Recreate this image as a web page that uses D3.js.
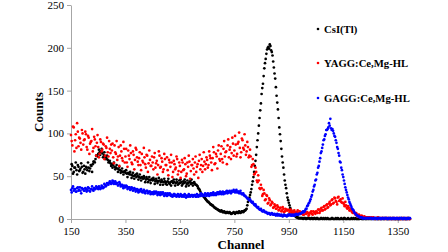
<!DOCTYPE html>
<html>
<head>
<meta charset="utf-8">
<script src="https://cdn.jsdelivr.net/npm/d3@7"></script>
<style>
  body { margin: 0; background: #fff; }
  svg { display: block; }
  text { font-family: "Liberation Serif", "Times New Roman", serif; }
</style>
</head>
<body>
<svg id="chart" width="448" height="252"></svg>
<script>
// readings every 5 channels from 150, plus a second set half-way (152.5, 157.5, ...)
var chStart = 150, chStep = 5, chHalf = 2.5;
var xTicks = [150, 350, 550, 750, 950, 1150, 1350];
var yTicks = [0, 50, 100, 150, 200, 250];
var seriesNames = ["CsI(Tl)", "YAGG:Ce,Mg-HL", "GAGG:Ce,Mg-HL"];
var seriesColors = ["#000000", "#ff0000", "#0000ff"];

var csi = [
  58,62,55,60,57,63,56,59,61,55,
  58,61,57,60,59,62,64,67,70,74,
  76,78,79,77,75,73,71,69,67,65,
  64,63,61,60,59,58,57,56,55,55,
  54,53,54,52,52,51,50,51,49,50,
  49,48,49,47,48,46,47,46,45,46,
  45,46,44,45,44,45,43,44,43,44,
  43,44,42,43,44,42,43,42,43,41,
  42,43,41,42,43,41,42,43,41,42,
  42,41,40,38,35,32,29,27,25,23,
  21,20,18,17,16,14,13,12,11,10,
  9,9,8,8,7,8,7,7,6,7,
  7,7,8,7,8,8,9,9,10,12,
  20,25,31,40,49,62,75,92,109,127,
  146,158,176,187,198,201,204,197,191,177,
  164,144,128,107,91,73,60,45,36,25,
  19,13,9,6,4,3,2,1,1,1,
  1,1,1,0,1,1,0,1,0,1,
  0,1,0,0,1,0,0,1,0,0,
  0,0,1,0,0,0,1,0,0,0,
  0,1,0,0,0,0,1,0,0,1,
  0,0,0,1,0,0,0,0,1,0,
  0,0,1,0,0,0,0,1,0,0,
  0,1,0,0,0,1,0,0,0,0,
  0,0,0,1,0,0,0,0,1,0
];
var csiMid = [
  64,53,60,66,52,61,57,65,54,62,
  53,60,66,56,63,55,67,66,74,73,
  81,75,82,72,78,70,74,66,68,62,
  60,66,58,63,55,61,54,59,52,56,
  57,49,53,55,48,54,47,52,53,46,
  52,45,48,50,43,49,43,49,42,47,
  48,41,47,42,48,40,46,40,47,41,
  40,47,41,39,44,46,39,46,40,45,
  46,39,44,46,38,45,39,44,46,39,
  43,40,39,36,34,30,28,26,24,22,
  20,19,17,16,15,13,12,11,10,9,
  10,8,9,7,8,7,8,6,7,8,
  6,8,7,9,7,9,8,10,11,16,
  23,28,35,44,55,68,84,100,118,135,
  153,167,182,193,200,199,202,195,184,170,
  154,136,118,99,82,66,52,40,30,22,
  16,11,7,5,4,2,2,1,1,1,
  0,1,0,1,1,0,1,0,1,0,
  1,0,0,1,0,1,0,0,1,0,
  0,1,0,0,1,0,0,0,1,0,
  1,0,0,1,0,0,0,1,0,0,
  0,0,1,0,0,1,0,0,0,1,
  0,1,0,0,1,0,0,0,1,0,
  1,0,0,1,0,0,1,0,0,0,
  0,1,0,0,1,0,0,1,0
];

var yagg = [
  98,86,107,92,83,102,95,89,104,87,
  93,99,81,95,88,91,79,96,85,89,
  84,76,90,81,87,74,83,78,91,77,
  80,72,86,76,69,84,74,79,68,82,
  73,66,80,70,77,64,75,69,81,67,
  71,63,76,66,72,60,74,65,69,62,
  66,72,60,68,63,74,61,67,58,70,
  63,57,69,61,66,55,64,60,70,56,
  62,55,66,58,64,53,61,67,56,63,
  59,66,55,64,68,58,70,62,67,64,
  69,63,74,66,71,78,65,73,80,70,
  76,70,82,73,79,86,72,84,77,88,
  80,87,76,90,83,78,92,81,86,79,
  84,74,73,63,64,53,55,43,45,35,
  36,29,30,23,27,19,22,17,19,14,
  15,12,14,11,13,10,12,9,11,10,
  10,8,9,7,10,6,8,7,9,6,
  7,5,8,6,7,5,8,6,9,7,
  9,7,11,9,13,10,15,12,17,14,
  20,17,23,19,24,20,25,21,23,19,
  19,15,16,12,13,10,10,7,8,5,
  5,4,4,3,3,2,2,2,1,2,
  1,1,2,1,1,1,0,1,1,1,
  1,0,1,1,0,1,0,1,0,1,
  0,1,0,1,0,0,1,0,1,0
];
var yaggMid = [
  91,108,79,99,112,85,94,81,100,92,
  102,84,97,76,90,105,83,93,74,98,
  72,93,79,88,70,85,95,73,82,87,
  88,65,78,91,73,62,86,71,90,66,
  82,61,74,86,66,79,58,83,72,63,
  78,57,68,83,64,75,55,80,62,73,
  58,77,65,52,79,60,71,55,76,63,
  72,51,66,75,49,68,58,73,52,66,
  48,69,57,71,50,66,74,47,63,70,
  52,73,61,48,75,63,55,78,58,72,
  60,79,71,57,84,64,76,59,86,68,
  85,66,91,78,64,93,81,70,95,74,
  97,73,88,101,72,94,83,99,75,90,
  72,81,61,70,52,60,45,51,36,40,
  27,34,22,28,18,24,16,20,13,17,
  12,16,10,13,9,14,8,12,10,11,
  7,11,6,9,8,5,10,7,6,8,
  5,9,6,8,4,7,9,5,8,6,
  8,11,7,12,10,14,11,16,13,18,
  16,22,18,25,21,17,26,22,20,24,
  17,20,13,15,10,12,8,9,6,7,
  3,5,2,4,2,3,1,2,2,1,
  2,1,1,0,1,2,1,0,1,1,
  0,1,1,0,1,0,1,1,0,1,
  1,0,0,1,1,0,1,0,0
];

var gagg = [
  34,36,33,35,32,37,34,33,36,35,
  33,35,34,36,32,35,34,36,35,37,
  35,37,36,38,37,40,39,41,42,43,
  42,44,43,41,42,40,41,39,38,39,
  37,38,36,37,35,36,34,35,34,33,
  34,33,32,33,31,32,33,31,32,30,
  31,32,30,31,29,30,31,29,30,28,
  29,30,28,29,28,27,29,28,27,28,
  27,28,27,26,28,27,26,28,27,28,
  27,28,26,27,28,27,29,28,27,29,
  28,29,28,30,29,28,30,29,31,30,
  30,31,29,31,32,30,32,31,33,32,
  32,33,31,32,31,30,29,28,27,25,
  24,22,21,19,18,16,15,13,12,11,
  10,9,9,8,7,7,6,6,6,5,
  5,5,4,5,4,4,4,4,4,4,
  4,5,4,4,5,5,5,5,6,7,
  8,8,10,12,16,19,23,28,34,40,
  46,54,62,71,79,87,93,99,104,107,
  109,106,105,100,96,89,82,74,66,57,
  49,41,34,28,23,18,14,11,8,6,
  4,3,2,2,1,1,1,1,1,1,
  1,1,0,1,1,0,1,1,0,1,
  0,1,1,0,1,0,1,0,1,1,
  1,0,1,1,0,1,0,1,0,1
];
var gaggMid = [
  31,38,35,32,36,33,37,30,35,33,
  36,32,37,33,35,38,33,35,38,36,
  38,35,39,36,41,38,42,40,44,41,
  45,41,44,42,39,43,38,40,36,38,
  39,35,37,34,37,33,36,32,35,31,
  32,35,31,34,30,33,30,32,29,31,
  29,30,32,28,31,28,29,31,27,30,
  27,29,30,27,26,29,27,26,29,26,
  29,26,28,29,25,27,29,26,28,26,
  28,26,29,26,27,30,27,28,30,27,
  30,27,30,28,31,29,28,31,29,32,
  29,32,31,30,33,31,33,30,32,34,
  31,34,32,30,33,29,30,27,26,24,
  23,23,20,20,17,17,14,14,11,12,
  9,10,8,8,6,7,5,7,5,6,
  4,6,5,4,5,3,5,4,3,5,
  5,4,5,4,4,6,5,6,6,7,
  9,9,12,15,18,21,26,32,38,45,
  52,60,67,77,83,92,97,104,105,112,
  117,104,103,97,92,84,77,67,60,52,
  45,37,31,25,20,16,12,10,7,5,
  4,3,2,2,1,1,1,1,1,1,
  1,0,1,1,0,1,1,0,1,1,
  1,1,0,1,1,0,1,1,0,1,
  0,1,1,0,1,1,0,1,1
];

var svg = d3.select("#chart");
var plotLeft = 71, plotRight = 410, plotTop = 5, plotBottom = 219;
var axisColor = "#a6a6a6";

var x = d3.scaleLinear().domain([150, 1395]).range([plotLeft, plotRight]);
var y = d3.scaleLinear().domain([0, 250]).range([plotBottom, plotTop]);

// x axis
var xAxis = svg.append("g")
    .attr("transform", "translate(0," + plotBottom + ")")
    .call(d3.axisBottom(x).tickValues(xTicks).tickFormat(d3.format("d"))
        .tickSize(4).tickPadding(4).tickSizeOuter(0));
// y axis
var yAxis = svg.append("g")
    .attr("transform", "translate(" + plotLeft + ",0)")
    .call(d3.axisLeft(y).tickValues(yTicks).tickFormat(d3.format("d"))
        .tickSize(4).tickPadding(3).tickSizeOuter(0));

[xAxis, yAxis].forEach(function(a) {
    a.attr("font-family", null);
    a.select(".domain").attr("stroke", axisColor);
    a.selectAll(".tick line").attr("stroke", axisColor);
    a.selectAll(".tick text")
        .attr("fill", "#000")
        .style("font-size", "11px");
});

// series: black first, then red, then blue on top
var allSeries = [[csi, csiMid], [yagg, yaggMid], [gagg, gaggMid]];
allSeries.forEach(function(pair, si) {
    var g = svg.append("g").attr("fill", seriesColors[si]);
    pair.forEach(function(vals, k) {
        var offset = k === 0 ? 0 : chHalf;
        g.append("g")
            .selectAll("circle")
            .data(vals)
            .enter().append("circle")
            .attr("cx", function(d, i) { return x(chStart + offset + i * chStep); })
            .attr("cy", function(d) { return y(d); })
            .attr("r", 1.35);
    });
});

// axis titles
svg.append("text")
    .attr("x", 241).attr("y", 249)
    .attr("text-anchor", "middle")
    .style("font-size", "13px").style("font-weight", "bold")
    .text("Channel");
svg.append("text")
    .attr("transform", "translate(43,112) rotate(-90)")
    .attr("text-anchor", "middle")
    .style("font-size", "13px").style("font-weight", "bold")
    .text("Counts");

// legend
var legendY = [29, 63, 98];
var legend = svg.append("g").selectAll("g")
    .data(seriesNames)
    .enter().append("g")
    .attr("transform", function(d, i) { return "translate(318," + legendY[i] + ")"; });
legend.append("circle")
    .attr("r", 1.3)
    .attr("fill", function(d, i) { return seriesColors[i]; });
legend.append("text")
    .attr("x", 6).attr("dy", "0.35em")
    .style("font-size", "10.7px").style("font-weight", "bold")
    .text(function(d) { return d; });
</script>
</body>
</html>
